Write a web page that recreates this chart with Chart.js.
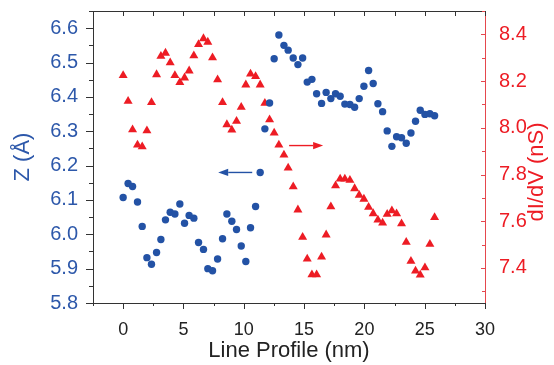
<!DOCTYPE html>
<html>
<head>
<meta charset="utf-8">
<title>Line profile</title>
<script src="https://cdn.jsdelivr.net/npm/chart.js@4.4.1/dist/chart.umd.min.js"></script>
<style>
  html, body { margin: 0; padding: 0; background: #fff; }
</style>
</head>
<body>
<canvas id="profileChart" width="554" height="365"></canvas>
<script>
// position along the line profile (nm), shared by both series
const profileNm = [
  0.00, 0.41, 0.78, 1.19, 1.58, 1.97, 2.35, 2.77, 3.13, 3.51,
  3.90, 4.29, 4.70, 5.09, 5.47, 5.86, 6.25, 6.66, 7.02, 7.41,
  7.83, 8.24, 8.60, 9.01, 9.40, 9.79, 10.17, 10.56, 10.98, 11.36,
  11.75, 12.14, 12.52, 12.91, 13.33, 13.68, 14.10, 14.49, 14.88, 15.26,
  15.65, 16.04, 16.45, 16.83, 17.22, 17.61, 17.99, 18.38, 18.80, 19.19,
  19.57, 19.96, 20.35, 20.73, 21.12, 21.51, 21.89, 22.28, 22.67, 23.08,
  23.47, 23.86, 24.24, 24.63, 25.02, 25.43, 25.82
];

// apparent height Z (Angstrom)
const heightZ = [
  6.107, 6.148, 6.139, 6.094, 6.023, 5.932, 5.913, 5.947, 5.985, 6.042,
  6.064, 6.059, 6.088, 6.032, 6.055, 6.047, 5.976, 5.956, 5.900, 5.894,
  5.928, 5.987, 6.059, 6.038, 6.014, 5.966, 5.921, 6.019, 6.081, 6.180,
  6.307, 6.382, 6.511, 6.580, 6.550, 6.536, 6.513, 6.494, 6.513, 6.443,
  6.451, 6.409, 6.381, 6.413, 6.395, 6.409, 6.402, 6.379, 6.378, 6.370,
  6.395, 6.431, 6.477, 6.439, 6.380, 6.357, 6.301, 6.256, 6.284, 6.281,
  6.265, 6.295, 6.329, 6.361, 6.349, 6.351, 6.345
];

// differential conductance dI/dV (nS)
const conductance = [
  8.224, 8.114, 7.992, 7.927, 7.919, 7.988, 8.109, 8.228, 8.307, 8.320,
  8.279, 8.224, 8.194, 8.214, 8.244, 8.309, 8.357, 8.382, 8.367, 8.300,
  8.206, 8.109, 8.014, 7.991, 8.028, 8.088, 8.184, 8.231, 8.220, 8.184,
  8.105, 8.035, 7.978, 7.927, 7.884, 7.828, 7.748, 7.649, 7.532, 7.439,
  7.371, 7.371, 7.447, 7.542, 7.662, 7.752, 7.781, 7.781, 7.776, 7.740,
  7.712, 7.695, 7.660, 7.633, 7.606, 7.593, 7.630, 7.645, 7.632, 7.590,
  7.510, 7.429, 7.387, 7.370, 7.401, 7.502, 7.616
];

const xTicks = [0, 5, 10, 15, 20, 25, 30];
const zTicks = [5.8, 5.9, 6.0, 6.1, 6.2, 6.3, 6.4, 6.5, 6.6];
const gTicks = [7.4, 7.6, 7.8, 8.0, 8.2, 8.4];

// arrows telling which axis each series belongs to: [fromX, toX, y]
const zArrow = [10.7, 7.88, 6.18];
const gArrow = [13.76, 16.58, 7.924];

const BLUE = "#2352a5";
const BLUE_TEXT = "#2d58aa";
const RED = "#ed1c24";
const RED_AXIS = "#e5474d";
const DARK = "#333333";
const FONT = "'Liberation Sans', Arial, sans-serif";

function tickLine(ctx, x1, y1, x2, y2) {
  ctx.beginPath();
  ctx.moveTo(x1, y1);
  ctx.lineTo(x2, y2);
  ctx.stroke();
}

function drawArrow(ctx, x1, x2, y, color) {
  const dir = Math.sign(x2 - x1);
  const headLen = 10;
  const headHalf = 3.6;
  ctx.save();
  ctx.strokeStyle = color;
  ctx.fillStyle = color;
  ctx.lineWidth = 1.4;
  ctx.beginPath();
  ctx.moveTo(x1, y);
  ctx.lineTo(x2 - dir * headLen, y);
  ctx.stroke();
  ctx.beginPath();
  ctx.moveTo(x2, y);
  ctx.lineTo(x2 - dir * headLen, y - headHalf);
  ctx.lineTo(x2 - dir * headLen, y + headHalf);
  ctx.closePath();
  ctx.fill();
  ctx.restore();
}

// frame, major/minor ticks, axis arrows and the right-hand title
const axisDecor = {
  id: "axisDecor",
  afterDatasetsDraw(chart) {
    const { ctx, scales } = chart;
    drawArrow(ctx,
      scales.x.getPixelForValue(zArrow[0]),
      scales.x.getPixelForValue(zArrow[1]),
      scales.y.getPixelForValue(zArrow[2]), BLUE);
    drawArrow(ctx,
      scales.x.getPixelForValue(gArrow[0]),
      scales.x.getPixelForValue(gArrow[1]),
      scales.y1.getPixelForValue(gArrow[2]), RED);
  },
  afterDraw(chart) {
    const { ctx, chartArea: a, scales } = chart;
    ctx.save();
    ctx.lineWidth = 1;

    // top frame line
    ctx.strokeStyle = DARK;
    tickLine(ctx, a.left, a.top + 0.5, a.right, a.top + 0.5);

    // x: outward at the bottom, inward at the top, every 2.5 nm
    for (let i = -1; i <= 12; i++) {
      const v = i * 2.5;
      const px = Math.round(scales.x.getPixelForValue(v)) + 0.5;
      const major = i % 2 === 0;
      tickLine(ctx, px, a.bottom, px, a.bottom + (major ? 6 : 3));
      tickLine(ctx, px, a.top, px, a.top + 5);
    }

    // left Z axis: outward, every 0.05
    for (let i = 0; i <= 17; i++) {
      const v = 5.8 + i * 0.05;
      const py = Math.round(scales.y.getPixelForValue(v)) + 0.5;
      const major = i % 2 === 0;
      tickLine(ctx, a.left, py, a.left - (major ? 7 : 4), py);
    }

    // right dI/dV axis: inward, every 0.1
    ctx.strokeStyle = RED_AXIS;
    for (let i = 0; i <= 12; i++) {
      const v = 7.3 + i * 0.1;
      const py = Math.round(scales.y1.getPixelForValue(v)) + 0.5;
      const major = i % 2 === 1;
      tickLine(ctx, a.right, py, a.right - (major ? 4 : 3), py);
    }

    // right axis title reads bottom to top
    ctx.translate(a.right + 51.5, 172);
    ctx.rotate(-Math.PI / 2);
    ctx.fillStyle = RED;
    ctx.font = "22px " + FONT;
    ctx.textAlign = "center";
    ctx.textBaseline = "middle";
    ctx.fillText("dI/dV (nS)", 0, 0);
    ctx.restore();
  }
};

function fixedWidth(w) {
  return (scale) => {
    scale.width = w;
    scale.paddingTop = 0;
    scale.paddingBottom = 0;
  };
}

const ctx = document.getElementById("profileChart");

new Chart(ctx, {
  type: "scatter",
  data: {
    datasets: [
      {
        label: "Z",
        data: profileNm.map((x, i) => ({ x: x, y: heightZ[i] })),
        yAxisID: "y",
        pointStyle: "circle",
        pointRadius: 3.7,
        borderWidth: 0,
        backgroundColor: BLUE,
      },
      {
        label: "dI/dV",
        data: profileNm.map((x, i) => ({ x: x, y: conductance[i] })),
        yAxisID: "y1",
        pointStyle: "triangle",
        pointRadius: 5.2,
        borderWidth: 0,
        backgroundColor: RED,
      },
    ],
  },
  options: {
    responsive: false,
    animation: false,
    layout: { padding: { top: 11, left: 0, right: 0, bottom: 0 } },
    plugins: {
      legend: { display: false },
      tooltip: { enabled: false },
    },
    scales: {
      x: {
        type: "linear",
        min: -2.5,
        max: 30,
        afterBuildTicks: (scale) => {
          scale.ticks = xTicks.map((v) => ({ value: v }));
        },
        afterFit: (scale) => {
          scale.height = 62;
          scale.paddingLeft = 0;
          scale.paddingRight = 0;
        },
        grid: { display: false },
        border: { display: true, color: DARK, width: 1 },
        ticks: {
          autoSkip: false,
          maxRotation: 0,
          padding: 8,
          color: "#222",
          font: { family: FONT, size: 18 },
          callback: (v) => v,
        },
        title: {
          display: true,
          text: "Line Profile (nm)",
          color: "#222",
          font: { family: FONT, size: 22 },
          padding: { top: 0, bottom: 1 },
        },
      },
      y: {
        type: "linear",
        position: "left",
        min: 5.8,
        max: 6.65,
        afterBuildTicks: (scale) => {
          scale.ticks = zTicks.map((v) => ({ value: v }));
        },
        afterFit: fixedWidth(93),
        grid: { display: false },
        border: { display: true, color: DARK, width: 1 },
        ticks: {
          autoSkip: false,
          padding: 7,
          color: BLUE_TEXT,
          font: { family: FONT, size: 20 },
          callback: (v) => Number(v).toFixed(1),
        },
        title: {
          display: true,
          text: "Z (Å)",
          color: BLUE_TEXT,
          font: { family: FONT, size: 22 },
          padding: { top: 10, bottom: 0 },
        },
      },
      y1: {
        type: "linear",
        position: "right",
        min: 7.25,
        max: 8.5,
        afterBuildTicks: (scale) => {
          scale.ticks = gTicks.map((v) => ({ value: v }));
        },
        afterFit: fixedWidth(69),
        grid: { display: false },
        border: { display: true, color: RED_AXIS, width: 1 },
        ticks: {
          autoSkip: false,
          padding: 6,
          color: RED,
          font: { family: FONT, size: 20 },
          callback: (v) => Number(v).toFixed(1),
        },
      },
    },
  },
  plugins: [axisDecor],
});
</script>
</body>
</html>
